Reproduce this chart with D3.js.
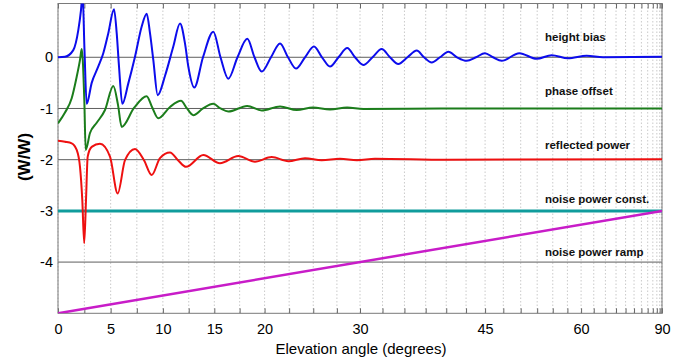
<!DOCTYPE html>
<html>
<head>
<meta charset="utf-8">
<script src="https://cdn.jsdelivr.net/npm/d3@7"></script>
<style>
  html, body { margin: 0; padding: 0; background: #fff; }
  text { font-family: "Liberation Sans", Arial, sans-serif; }
</style>
</head>
<body>
<div id="chart"></div>
<script>
// ---------- data ----------
const xLabelTicks = [0, 5, 10, 15, 20, 30, 45, 60, 90];
const xMinorTicks = d3.range(0, 92.5, 2.5);
const yTicks = [0, -1, -2, -3, -4];

const seriesNames = ['height bias', 'phase offset', 'reflected power', 'noise power const.', 'noise power ramp'];

const biasAngle = [0, 0.664, 1.451, 1.926, 2.182, 2.334, 2.514, 2.723, 3.198, 3.826, 4.30, 4.777, 5.32, 5.577,
  5.797, 6.111, 6.684, 7.324, 7.965, 8.444, 8.761, 9.078, 9.501, 10.223, 11.005, 11.654, 12.137, 12.459, 13.043,
  13.89, 14.899, 15.607, 16.376, 17.288, 18.265,
  18.985, 19.71, 20.649, 21.566, 22.383, 23.207, 24.139, 25.077, 25.918, 26.765, 27.671, 28.617, 29.452, 30.362,
  31.381, 32.407, 33.344, 34.291, 35.357, 36.436, 37.3, 38.224, 39.231, 40.258, 41.345, 42.586, 43.795, 44.985,
  46.074, 47.277, 49.795, 52.423, 54.826, 57.613, 61.08, 64.48, 90];
const biasValue = [0, 0.01, 0.14, 0.53, 0.92, 1.25, 0.14, -0.91, -0.50, -0.18, 0.08, 0.47, 0.94, 0.47,
  -0.18, -0.91, -0.51, 0.01, 0.60, 0.85, 0.47, -0.05, -0.74, -0.35, 0.21, 0.66, 0.27, -0.18, -0.59,
  0, 0.50, 0, -0.42, 0, 0.36,
  0, -0.28, 0, 0.27, 0, -0.22, 0, 0.21, 0, -0.18, 0, 0.18, 0, -0.15,
  0, 0.16, 0, -0.13, 0, 0.13, 0, -0.10, 0, 0.11, 0, -0.07, 0, 0.08,
  0, -0.07, 0.08, -0.03, 0.04, -0.02, 0.03, 0, 0.01];

const phaseAngle = [0, 0.664, 1.3, 1.774, 2.087, 2.249, 2.496, 2.629, 3.037, 3.674, 4.463, 5.253, 5.701, 6.054,
  7.229, 8.444, 8.954, 9.559, 10.686, 11.75, 12.332, 12.944, 13.89, 14.899, 15.607, 16.376, 18.25, 19.71,
  21.566, 23.28, 24.97, 26.765, 28.6, 30.36, 40, 90];
const phaseValue = [-1.29, -1.08, -0.80, -0.38, -0.05, 0.16, -0.83, -1.81, -1.48, -1.28, -1.03, -0.56, -0.93, -1.36,
  -0.99, -0.76, -0.97, -1.19, -0.97, -0.85, -1.0, -1.13, -1.0, -0.91, -1.0, -1.06, -0.95, -1.04,
  -0.96, -1.03, -0.98, -1.02, -0.98, -1.01, -1.0, -1.0];

const powerAngle = [0, 0.664, 1.3, 1.774, 2.087, 2.306, 2.486, 2.657, 2.818, 3.198, 3.987, 4.939, 5.672, 6.369,
  7.324, 8.186, 8.925, 9.722, 10.686, 11.459, 12.235, 13.919, 15.557, 17.368, 19.036, 20.721, 22.413, 24.139,
  25.887, 27.83, 29.67, 31.66, 40, 90];
const powerValue = [-1.63, -1.65, -1.68, -1.81, -2.14, -2.79, -3.63, -2.79, -1.94, -1.75, -1.69, -1.94, -2.66, -2.01,
  -1.79, -2.01, -2.30, -1.97, -1.86, -2.01, -2.14, -1.91, -2.07, -1.93, -2.04, -1.95, -2.03, -1.97,
  -2.01, -1.98, -2.01, -1.98, -2.0, -1.99];

const constAngle = [0, 90];
const constValue = [-3, -3];

const rampAngle = [0, 90];
const rampValue = [-5, -3];

// ---------- layout ----------
const width = 691, height = 362;
const margin = { top: 3.5, right: 29, bottom: 48.7, left: 58 };
const plotW = width - margin.left - margin.right;
const plotH = height - margin.top - margin.bottom;

// x axis is linear in sin(elevation)
function sinScale() {
  const lin = d3.scaleLinear().domain([0, 1]);
  function s(d) { return lin(Math.sin(d * Math.PI / 180)); }
  s.domain = () => [0, 90];
  s.range = (r) => { if (r) { lin.range(r); return s; } return lin.range(); };
  s.copy = () => sinScale().range(lin.range());
  return s;
}
const x = sinScale().range([0, plotW]);
const y = d3.scaleLinear().domain([-5, 1.05]).range([plotH, 0]);

const svg = d3.select('#chart').append('svg')
  .attr('width', width)
  .attr('height', height);

const g = svg.append('g')
  .attr('transform', 'translate(' + margin.left + ',' + margin.top + ')');

svg.append('defs').append('clipPath').attr('id', 'plot-clip')
  .append('rect').attr('width', plotW).attr('height', plotH);

/* ----------grid------------*/
g.append('g').selectAll('line').data(xMinorTicks).enter().append('line')
  .attr('x1', d => x(d)).attr('x2', d => x(d))
  .attr('y1', 0).attr('y2', plotH)
  .attr('stroke', '#bcbcbc')
  .attr('stroke-width', 0.8)
  .attr('stroke-dasharray', '1.5,2');

g.append('g').selectAll('line').data(yTicks).enter().append('line')
  .attr('x1', 0).attr('x2', plotW)
  .attr('y1', d => y(d)).attr('y2', d => y(d))
  .attr('stroke', '#5e5e5e')
  .attr('stroke-width', 1);

/* ----------axes------------*/
const xAxis = d3.axisBottom(x)
  .tickValues(xMinorTicks)
  .tickSizeInner(-5).tickSizeOuter(0)
  .tickPadding(10.5)
  .tickFormat(d => xLabelTicks.includes(d) ? d : '');

const xg = g.append('g').attr('transform', 'translate(0,' + plotH + ')').call(xAxis);
xg.selectAll('text').style('font-size', '14.5px').attr('fill', '#000');

const xTop = d3.axisTop(x).tickValues(xMinorTicks).tickSizeInner(-5).tickSizeOuter(0).tickFormat('');
g.append('g').call(xTop);

const yAxis = d3.axisLeft(y).tickValues(yTicks).tickSize(0).tickPadding(5).tickFormat(d => d === 0 ? '0' : '-' + Math.abs(d));
const yg = g.append('g').call(yAxis);
yg.selectAll('text').style('font-size', '14.5px').attr('fill', '#000');

g.selectAll('.domain').remove();
g.selectAll('.tick line').attr('stroke', '#666');

g.append('rect')
  .attr('width', plotW).attr('height', plotH)
  .attr('fill', 'none')
  .attr('stroke', '#7a7a7a')
  .attr('stroke-width', 1);

/* ----------series------------*/
const series = [
  { angle: constAngle, value: constValue, color: '#109c9c', w: 3 },
  { angle: rampAngle, value: rampValue, color: '#c81cc8', w: 2.5 },
  { angle: powerAngle, value: powerValue, color: '#ee1010', w: 2 },
  { angle: phaseAngle, value: phaseValue, color: '#1b7d1b', w: 2 },
  { angle: biasAngle, value: biasValue, color: '#0c0cec', w: 2 }
];

const line = d3.line()
  .x(d => x(d[0]))
  .y(d => y(d[1]))
  .curve(d3.curveMonotoneX);

const lines = g.append('g').attr('clip-path', 'url(#plot-clip)');
series.forEach(s => {
  lines.append('path')
    .datum(s.angle.map((a, i) => [a, s.value[i]]))
    .attr('fill', 'none')
    .attr('stroke', s.color)
    .attr('stroke-width', s.w)
    .attr('stroke-linejoin', 'round')
    .attr('d', line);
});

/* ----------labels------------*/
g.append('g').selectAll('text').data(seriesNames).enter().append('text')
  .attr('x', 545 - margin.left)
  .attr('y', (d, i) => y(0.39 - 1.05 * i) + 4)
  .attr('font-weight', 'bold')
  .style('font-size', '11.5px')
  .attr('fill', '#111')
  .text(d => d);

svg.append('text')
  .attr('x', 361).attr('y', 353.5)
  .attr('text-anchor', 'middle')
  .style('font-size', '15px')
  .attr('fill', '#000')
  .text('Elevation angle (degrees)');

svg.append('text')
  .attr('transform', 'translate(30,157) rotate(-90)')
  .attr('text-anchor', 'middle')
  .attr('font-weight', 'bold')
  .style('font-size', '17px')
  .attr('fill', '#000')
  .text('(W/W)');
</script>
</body>
</html>
